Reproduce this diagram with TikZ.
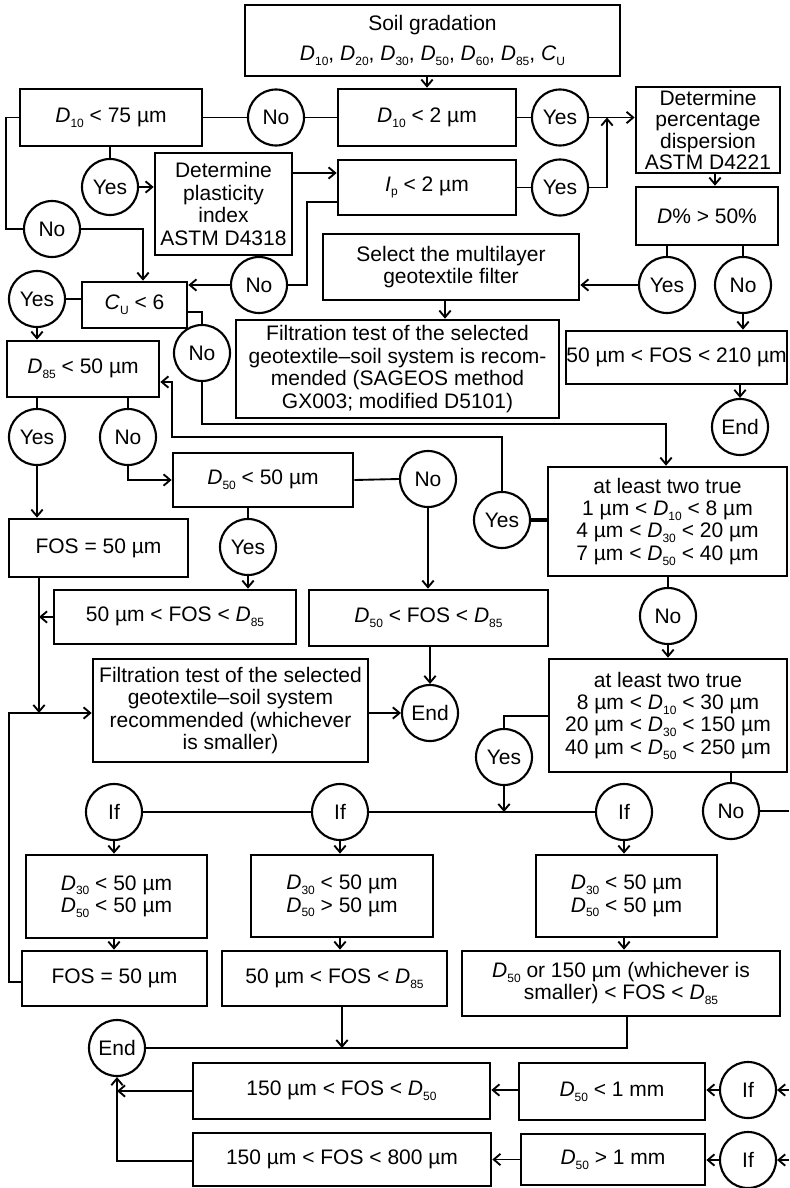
\documentclass[tikz,border=0pt]{standalone}
\usepackage{fontspec}
\setmainfont{Liberation Sans}
\usetikzlibrary{arrows.meta}
\newcommand\lsub[1]{\raisebox{-3.6pt}{\fontsize{9pt}{9pt}\selectfont #1}}
\newcommand\DD[1]{\textit{D}\lsub{#1}}
\begin{document}
\begin{tikzpicture}[x=0.75pt,y=-0.75pt,
  font=\fontsize{15.75pt}{16.8pt}\selectfont,
  B/.style 2 args={draw, rectangle, line width=2pt, inner sep=0pt, align=center,
    minimum width=#1*0.75pt, minimum height=#2*0.75pt},
  circ/.style={draw, circle, line width=1.6pt, minimum size=56*0.75pt, inner sep=0pt},
  con/.style={line width=1.4pt},
  arr/.style={con, -{Straight Barb[length=5pt,width=8.5pt]}},
  thick con/.style={line width=3pt}]
\fill[white] (0,0) rectangle (789,1188);
\useasboundingbox (0,0) rectangle (789,1188);

% ---------- nodes ----------
\node[B={375}{71}] (soil) at (432.5,40.5) {Soil gradation\\[6pt] \DD{10}, \DD{20}, \DD{30}, \DD{50}, \DD{60}, \DD{85}, \textit{C}\lsub{U}};
\node[B={182}{57}] (d75) at (111,117.5) {\DD{10} < 75 µm};
\node[circ] (no1) at (276,117.5) {No};
\node[B={178}{57}] (d2) at (427,117.5) {\DD{10} < 2 µm};
\node[circ] (yes1) at (560,117.5) {Yes};
\node[B={144}{86}, font=\fontsize{15.75pt}{16.2pt}\selectfont] (disp) at (708,130) {Determine\\percentage\\dispersion\\ASTM D4221};
\node[B={178}{55}] (ip) at (427,187.5) {\textit{I}\lsub{p} < 2 µm};
\node[circ] (yes2) at (560,187.5) {Yes};
\node[circ] (yes3) at (110,187) {Yes};
\node[B={137}{102}] (plast) at (223.5,204) {Determine\\plasticity\\index\\ASTM D4318};
\node[B={142}{58}] (dpct) at (707,216) {\textit{D}\% > 50\%};
\node[circ] (no2) at (52,229) {No};
\node[B={256}{66}] (sel) at (451,267) {Select the multilayer\\geotextile filter};
\node[circ] (no3) at (259,285) {No};
\node[circ] (yes4) at (667,285) {Yes};
\node[circ] (no4) at (743,285) {No};
\node[B={105}{46}] (cu) at (134.5,305) {\textit{C}\lsub{U} < 6};
\node[circ] (yes5) at (37,299) {Yes};
\node[B={323}{98}] (filt1) at (397.5,369) {Filtration test of the selected\\geotextile--soil system is recom-\\mended (SAGEOS method\\GX003; modified D5101)};
\node[B={221}{53}] (fos210) at (676.5,357.5) {50 µm < FOS < 210 µm};
\node[circ] (no5) at (202,353) {No};
\node[B={152}{56}] (d85) at (83,369) {\DD{85} < 50 µm};
\node[circ] (end1) at (740,427) {End};
\node[circ] (yes6) at (37,437) {Yes};
\node[circ] (no6) at (128,437) {No};
\node[B={180}{54}] (d50) at (263,480) {\DD{50} < 50 µm};
\node[circ] (no7) at (428,479) {No};
\node[circ] (yes7) at (502,520) {Yes};
\node[B={239}{109}] (two1) at (667.5,521.5) {at least two true\\1 µm < \DD{10} < 8 µm\\4 µm < \DD{30} < 20 µm\\7 µm < \DD{50} < 40 µm};
\node[B={179}{58}] (fos50a) at (98.5,548) {FOS = 50 µm};
\node[circ] (yes8) at (248,547) {Yes};
\node[B={242}{54}] (fosd85a) at (175,617) {50 µm < FOS < \DD{85}};
\node[B={239}{56}] (d50d85) at (428.5,618) {\DD{50} < FOS < \DD{85}};
\node[circ] (no8) at (668,616) {No};
\node[B={275}{103}] (filt2) at (230.5,710.5) {Filtration test of the selected\\geotextile--soil system\\recommended (whichever\\is smaller)};
\node[circ] (end2) at (430,713) {End};
\node[B={238}{113}] (two2) at (668,715.5) {at least two true\\8 µm < \DD{10} < 30 µm\\20 µm < \DD{30} < 150 µm\\40 µm < \DD{50} < 250 µm};
\node[circ] (yes9) at (504,757) {Yes};
\node[circ] (if1) at (114,812) {If};
\node[circ] (if2) at (340,812) {If};
\node[circ] (if3) at (624,812) {If};
\node[circ] (no9) at (731,811) {No};
\node[B={181}{83}] (boxA) at (116.5,896.5) {\DD{30} < 50 µm\\\DD{50} < 50 µm};
\node[B={182}{82}] (boxB) at (342,896) {\DD{30} < 50 µm\\\DD{50} > 50 µm};
\node[B={181}{82}] (boxC) at (626.5,896) {\DD{30} < 50 µm\\\DD{50} < 50 µm};
\node[B={185}{55}] (fos50b) at (114.5,978.5) {FOS = 50 µm};
\node[B={225}{55}] (fosd85b) at (334.5,978.5) {50 µm < FOS < \DD{85}};
\node[B={318}{65}] (d50or) at (621,983.5) {\DD{50} or 150 µm (whichever is\\smaller) < FOS < \DD{85}};
\node[circ] (end3) at (117,1048) {End};
\node[B={297}{56}] (fosd50) at (341.5,1091) {150 µm < FOS < \DD{50}};
\node[B={298}{53}] (fos800) at (342,1159.5) {150 µm < FOS < 800 µm};
\node[B={186}{57}] (dlt) at (612,1091.5) {\DD{50} < 1 mm};
\node[B={184}{51}] (dgt) at (613,1159.5) {\DD{50} > 1 mm};
\node[circ] (if4) at (748,1090) {If};
\node[circ] (if5) at (748,1160) {If};
\coordinate (r1) at (789,1090);
\coordinate (r2) at (789,1160);
\coordinate (r3) at (789,811);
\coordinate (j1) at (607,117.5);

% ---------- connectors ----------
\draw[arr] (d2.north |- soil.south) -- (d2.north);
\draw[con] (d75.east) -- (no1.west);
\draw[con] (no1.east) -- (d2.west);
\draw[con] (d2.east) -- (yes1.west);
\draw[arr] (yes1.east) -- (yes1.east -| disp.west);
\draw[con] (ip.east) -- (yes2.west);
\draw[arr] (yes2.east) -| (j1);
\draw[con] (yes3.north |- d75.south) -- (yes3.north);
\draw[arr] (yes3.east) -- (yes3.east -| plast.west);
\draw[arr] (plast.east |- 0,173) -- (ip.west |- 0,173);
\draw[con] (d75.west) -- (6,117.5) |- (no2.west);
\draw[arr] (no2.east) -| (143,0 |- cu.north);
\draw[con] (ip.west |- 0,202) -- (307,202) |- (no3.east);
\draw[arr] (no3.west) -- (no3.west -| cu.east);
\draw[con] (yes4.north |- dpct.south) -- (yes4.north);
\draw[con] (no4.north |- dpct.south) -- (no4.north);
\draw[arr] (yes4.west) -- (yes4.west -| sel.east);
\draw[arr] (715,0 |- disp.south) -- (715,0 |- dpct.north);
\draw[arr] (no4.south) -- (no4.south |- fos210.north);
\draw[arr] (end1.north |- fos210.south) -- (end1.north);
\draw[arr] (445,0 |- sel.south) -- (445,0 |- filt1.north);
\draw[con] (yes5.east -| cu.west) -- (yes5.east);
\draw[arr] (yes5.south) -- (yes5.south |- d85.north);
\draw[con] (cu.east |- 0,312) -| (no5.north);
\draw[arr] (no5.south) |- (666,424) -- (666,0 |- two1.north);
\draw[con] (yes6.north |- d85.south) -- (yes6.north);
\draw[con] (no6.north |- d85.south) -- (no6.north);
\draw[arr] (yes6.south) -- (yes6.south |- fos50a.north);
\draw[arr] (no6.south) |- (d50.west);
\draw[con] (d50.east) -- (no7.west);
\draw[con] (yes8.north |- d50.south) -- (yes8.north);
\draw[arr] (yes8.south) -- (yes8.south |- fosd85a.north);
\draw[arr] (no7.south) -- (no7.south |- d50d85.north);
\draw[arr] (end2.north |- d50d85.south) -- (end2.north);
\draw[arr] (filt2.east |- end2.west) -- (end2.west);
\draw[arr] (yes7.north) |- (172,437) |- (d85.east |- 0,382);
\draw[thick con] (yes7.east) -- (yes7.east -| two1.west);
\draw[con] (no8.north |- two1.south) -- (no8.north);
\draw[arr] (no8.south) -- (no8.south |- two2.north);
\draw[con] (two2.west |- 0,716) -| (yes9.north);
\draw[arr] (yes9.south) -- (yes9.south |- if3.west);
\draw[con] (if1.east) -- (if2.west);
\draw[con] (if2.east) -- (if3.west);
\draw[con] (no9.north |- two2.south) -- (no9.north);
\draw[con] (no9.east) -- (r3);
\draw[arr] (if1.south) -- (if1.south |- boxA.north);
\draw[arr] (if2.south) -- (if2.south |- boxB.north);
\draw[arr] (if3.south) -- (if3.south |- boxC.north);
\draw[arr] (if1.south |- boxA.south) -- (if1.south |- fos50b.north);
\draw[arr] (if2.south |- boxB.south) -- (if2.south |- fosd85b.north);
\draw[arr] (if3.south |- boxC.south) -- (if3.south |- d50or.north);
\draw[arr] (fos50b.west |- 0,982) -| (9,713) -- (filt2.west |- 0,713);
\draw[arr] (39,0 |- fos50a.south) -- (39,713);
\draw[arr] (fosd85a.west) -- (39,0 |- fosd85a.west);
\draw[arr] (342,0 |- fosd85b.south) -- (342,0 |- end3.east);
\draw[con] (627,0 |- d50or.south) |- (end3.east);
\draw[arr] (fosd50.west) -- (end3.south |- fosd50.west);
\draw[arr] (fos800.west |- 0,1161) -| (end3.south);
\draw[arr] (dlt.west |- 0,1090) -- (fosd50.east |- 0,1090);
\draw[arr] (dgt.west) -- (dgt.west -| fos800.east);
\draw[arr] (if4.west) -- (if4.west -| dlt.east);
\draw[arr] (if5.west) -- (if5.west -| dgt.east);
\draw[arr] (r1) -- (if4.east);
\draw[arr] (r2) -- (if5.east);
\end{tikzpicture}
\end{document}
